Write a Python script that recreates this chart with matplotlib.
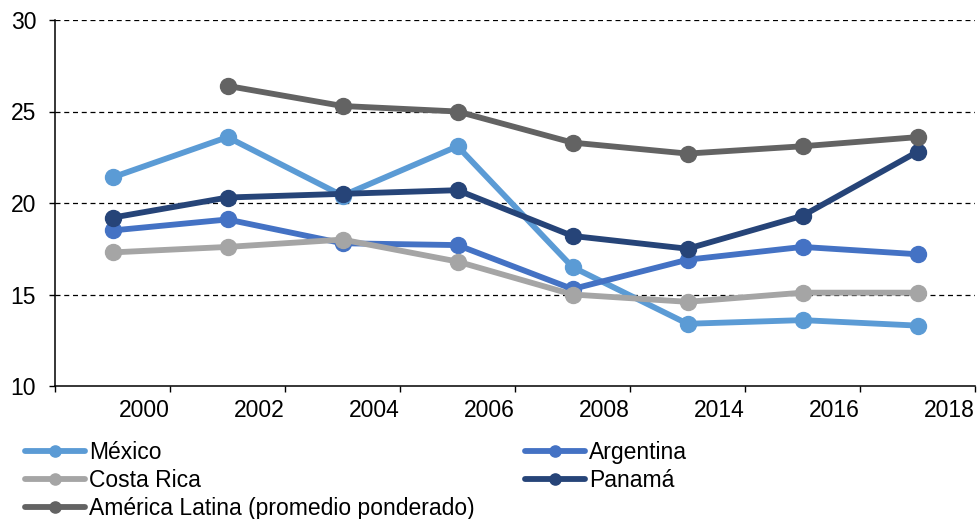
import numpy as np
import matplotlib
matplotlib.use("Agg")
import matplotlib.pyplot as plt

plt.rcParams.update({
    "font.family": ["Liberation Sans", "DejaVu Sans"],
    "font.size": 16.5,
})

# category labels (printed at the right-hand boundary of each slot)
years = ["2000", "2002", "2004", "2006", "2008", "2014", "2016", "2018"]

mexico = [21.4, 23.6, 20.4, 23.1, 16.5, 13.4, 13.6, 13.3]
argentina = [18.5, 19.1, 17.8, 17.7, 15.3, 16.9, 17.6, 17.2]
costa_rica = [17.3, 17.6, 18.0, 16.8, 15.0, 14.6, 15.1, 15.1]
panama = [19.2, 20.3, 20.5, 20.7, 18.2, 17.5, 19.3, 22.8]
america_latina = [np.nan, 26.4, 25.3, 25.0, 23.3, 22.7, 23.1, 23.6]

series = [
    ("México", mexico, "#5B9BD5"),
    ("Argentina", argentina, "#4472C4"),
    ("Costa Rica", costa_rica, "#A5A5A5"),
    ("Panamá", panama, "#264478"),
    ("América Latina (promedio ponderado)", america_latina, "#636363"),
]

fig = plt.figure(figsize=(9.77, 5.19), dpi=100)
ax = fig.add_axes([55 / 977, 133 / 519, 920 / 977, 366 / 519])

x = np.arange(len(years))
handles = {}
for name, vals, col in series:
    (h,) = ax.plot(x, vals, color=col, lw=4.2, marker="o", ms=11.5,
                   solid_capstyle="round", label=name, zorder=3)
    handles[name] = h

ax.set_xlim(-0.5, len(years) - 0.5)
ax.set_ylim(10, 30)
ax.set_yticks([10, 15, 20, 25, 30])
for yv in [15, 20, 25, 30]:
    ax.axhline(yv, color="black", lw=0.9, ls=(0, (4, 3)), zorder=1)

edges = np.arange(-0.5, len(years), 1.0)
ax.set_xticks(edges)
ax.set_xticklabels([""] + years, ha="right")
ax.tick_params(axis="x", direction="out", length=4.5, width=1, pad=5)
ax.tick_params(axis="y", direction="out", length=4.5, width=1, pad=9)

for s in ["top", "right"]:
    ax.spines[s].set_visible(False)
for s in ["left", "bottom"]:
    ax.spines[s].set_linewidth(1.1)

leg_kw = dict(frameon=False, loc="upper left", handlelength=2.6,
              handletextpad=0.2, labelspacing=0.22, borderaxespad=0,
              borderpad=0, markerscale=0.7, fontsize=16.5)
col1 = ["México", "Costa Rica", "América Latina (promedio ponderado)"]
col2 = ["Argentina", "Panamá"]
fig.legend([handles[n] for n in col1], col1,
           bbox_to_anchor=(25 / 977, 1 - 441 / 519), **leg_kw)
fig.legend([handles[n] for n in col2], col2,
           bbox_to_anchor=(525 / 977, 1 - 441 / 519), **leg_kw)

fig.savefig("out.png", dpi=100)
